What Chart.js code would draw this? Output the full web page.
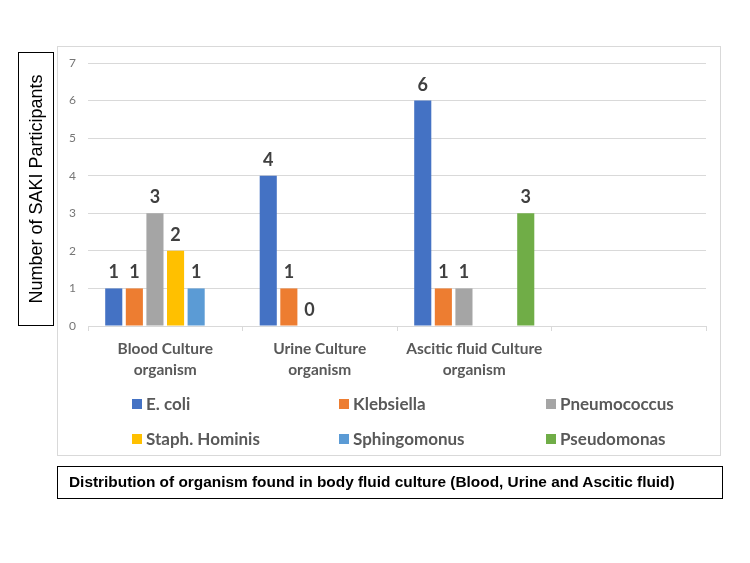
<!DOCTYPE html>
<html>
<head>
<meta charset="utf-8">
<script src="https://cdn.jsdelivr.net/npm/chart.js@4.4.1/dist/chart.umd.min.js"></script>
<style>
  html, body { margin: 0; padding: 0; background: #fff; }
  #wrap { position: relative; width: 750px; height: 563px; }
  #chart { position: absolute; left: 0; top: 0; }
  #frame { position: absolute; left: 57px; top: 46px; width: 664px; height: 410px; border: 1px solid #d9d9d9; box-sizing: border-box; }
  #ytitle { position: absolute; left: 18px; top: 52px; width: 36px; height: 274px; border: 1.5px solid #000; box-sizing: border-box; }
  #ytitle span { position: absolute; left: 50%; top: 50%; transform: translate(-50%, -50%) rotate(-90deg); white-space: nowrap; font: 18px "Liberation Sans", Arial, sans-serif; color: #000; }
  #caption { position: absolute; left: 57px; top: 466px; width: 666px; height: 33px; border: 1.5px solid #000; box-sizing: border-box; font: bold 15.4px "Liberation Sans", Arial, sans-serif; color: #000; line-height: 30px; padding-left: 11px; white-space: nowrap; }
  #legend { position: absolute; left: 0; top: 0; }
  .lg { position: absolute; font: bold 17px Lato, sans-serif; color: #595959; white-space: nowrap; }
  .lg i { display: inline-block; width: 10px; height: 10px; margin-right: 4px; vertical-align: 1px; }
</style>
</head>
<body>
<div id="wrap">
  <div id="frame"></div>
  <canvas id="chart" width="750" height="563"></canvas>
  <div id="ytitle"><span>Number of SAKI Participants</span></div>
  <div id="legend"></div>
  <div id="caption">Distribution of organism found in body fluid culture (Blood, Urine and Ascitic fluid)</div>
</div>
<script>
// categories and series
const categories = [['Blood Culture', 'organism'], ['Urine Culture', 'organism'], ['Ascitic fluid Culture', 'organism'], ''];
const seriesNames = ['E. coli', 'Klebsiella', 'Pneumococcus', 'Staph. Hominis', 'Sphingomonus', 'Pseudomonas'];
const ecoli = [1, 4, 6, null];
const klebsiella = [1, 1, 1, null];
const pneumococcus = [3, 0, 1, null];
const staphHominis = [2, null, null, null];
const sphingomonus = [1, null, null, null];
const pseudomonas = [null, null, 3, null];
const yTicks = [0, 1, 2, 3, 4, 5, 6, 7];

const colors = ['#4472C4', '#ED7D31', '#A5A5A5', '#FFC000', '#5B9BD5', '#70AD47'];
const allSeries = [ecoli, klebsiella, pneumococcus, staphHominis, sphingomonus, pseudomonas];

const valueLabels = {
  id: 'valueLabels',
  afterDatasetsDraw(chart) {
    const ctx = chart.ctx;
    ctx.save();
    ctx.font = 'bold 18px Lato, sans-serif';
    ctx.fillStyle = '#404040';
    ctx.textAlign = 'center';
    ctx.textBaseline = 'alphabetic';
    chart.data.datasets.forEach((ds, i) => {
      const meta = chart.getDatasetMeta(i);
      meta.data.forEach((bar, j) => {
        if (ds.data[j] === null) return;
        ctx.fillText(String(ds.data[j]), bar.x, bar.y - 10);
      });
    });
    ctx.restore();
  }
};

const chart = new Chart(document.getElementById('chart'), {
  type: 'bar',
  data: {
    labels: categories,
    datasets: seriesNames.map((name, i) => ({
      label: name,
      data: allSeries[i],
      backgroundColor: colors[i],
      categoryPercentage: 0.8,
      barPercentage: 0.83
    }))
  },
  options: {
    responsive: false,
    animation: false,
    layout: { padding: { left: 57, right: 44, top: 63, bottom: 177 } },
    plugins: { legend: { display: false }, tooltip: { enabled: false } },
    scales: {
      x: {
        grid: { drawOnChartArea: false, drawTicks: true, tickLength: 5, color: '#d9d9d9' },
        border: { color: '#d9d9d9' },
        ticks: { padding: 8, color: '#595959', font: { family: 'Lato', size: 15.5, weight: 'bold', lineHeight: 1.35 }, maxRotation: 0 },
        afterFit(scale) { scale.height = 60; }
      },
      y: {
        min: 0, max: 7,
        afterBuildTicks(scale) { scale.ticks = yTicks.map(v => ({ value: v })); },
        grid: { color: '#d9d9d9', drawTicks: false },
        border: { display: false },
        ticks: { padding: 12, color: '#767676', font: { family: 'Lato', size: 12 } },
        afterFit(scale) { scale.width = 31; }
      }
    }
  },
  plugins: [valueLabels]
});

// legend in three columns, two rows
const legend = document.getElementById('legend');
const colX = [132, 339, 546];
const rowY = [393, 428];
chart.data.datasets.forEach((ds, i) => {
  const d = document.createElement('div');
  d.className = 'lg';
  d.style.left = colX[i % 3] + 'px';
  d.style.top = rowY[Math.floor(i / 3)] + 'px';
  d.innerHTML = '<i style="background:' + ds.backgroundColor + '"></i>' + ds.label;
  legend.appendChild(d);
});
</script>
</body>
</html>
